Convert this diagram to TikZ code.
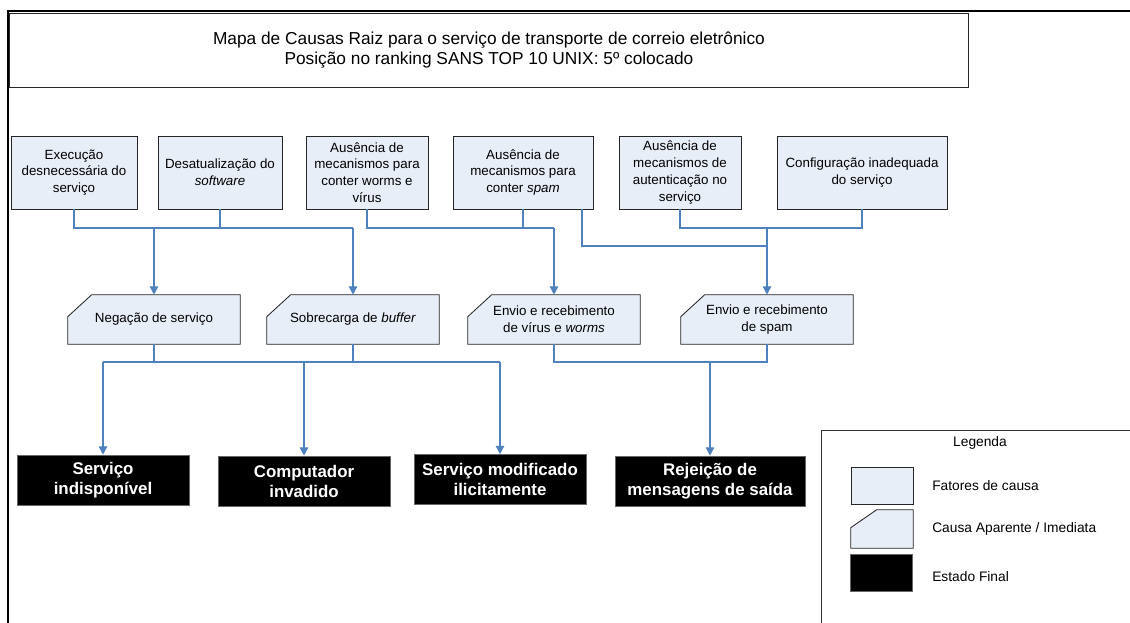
\documentclass[tikz,border=0pt]{standalone}
\usepackage{fontspec}
\setmainfont{Liberation Sans}
\usepackage{xcolor}
\usepackage{tikz}
\definecolor{factorfill}{RGB}{232, 238, 247}
\definecolor{linkblue}{RGB}{79, 129, 189}
\usetikzlibrary{arrows.meta, positioning, calc, backgrounds}

\begin{document}
\begin{tikzpicture}[
    x=0.025cm, y=-0.025cm,
    factor/.style={rectangle, draw=black!85, line width=0.6pt, fill=factorfill, minimum height=1.825cm, inner sep=2pt, align=center, font=\fontsize{9.5}{11.9}\selectfont},
    cause/.style={rectangle, minimum width=4.3cm, minimum height=1.225cm, inner sep=1pt, align=center, font=\fontsize{9.5}{11.9}\selectfont},
    causeedge/.style={draw=black!85, line width=0.6pt, fill=factorfill},
    endstate/.style={rectangle, draw=black!60, fill=black, text=white, minimum width=4.3cm, minimum height=1.25cm, inner sep=1pt, align=center, font=\bfseries\fontsize{12}{14.2}\selectfont},
    legtext/.style={anchor=west, inner sep=0pt, font=\fontsize{9.8}{11.9}\selectfont},
    connector/.style={draw=linkblue, line width=1pt},
    connarrow/.style={connector, -{Triangle[length=6pt, width=6pt]}}
]
    \useasboundingbox (0,0) rectangle (1130,623);

    % Frame
    \draw[line width=1.8pt] (8,623) -- (8,11) -- (1130,11);

    % Title
    \node[rectangle, draw=black!85, line width=0.6pt, minimum width=23.95cm, minimum height=1.85cm, align=center, font=\fontsize{12.3}{14.6}\selectfont] (title) at (489,50) {Mapa de Causas Raiz para o serviço de transporte de correio eletrônico\\Posição no ranking SANS TOP 10 UNIX: 5º colocado};

    % Cause factors
    \node[factor, minimum width=3.15cm] (f1) at (74,172.5) {Execução\\desnecessária do\\serviço};
    \node[factor, minimum width=3.1cm] (f2) at (220,172.5) {Desatualização do\\\textit{software}};
    \node[factor, minimum width=3.05cm] (f3) at (367,172.5) {Ausência de\\mecanismos para\\conter worms e\\vírus};
    \node[factor, minimum width=3.5cm] (f4) at (523,172.5) {Ausência de\\mecanismos para\\conter \textit{spam}};
    \node[factor, minimum width=3.05cm] (f5) at (680,172.5) {Ausência de\\mecanismos de\\autenticação no\\serviço};
    \node[factor, minimum width=4.25cm] (f6) at (862,172.5) {Configuração inadequada\\do serviço};

    % Apparent causes
    \node[cause] (c1) at (154,319.5) {Negação de serviço};
    \node[cause] (c2) at (353,319.5) {Sobrecarga de \textit{buffer}};
    \node[cause] (c3) at (554,319.5) {Envio e recebimento\\de vírus e \textit{worms}};
    \node[cause] (c4) at (767,319.5) {Envio e recebimento\\de spam};

    % Final states
    \node[endstate] (e1) at (103,480) {Serviço\\indisponível};
    \node[endstate] (e2) at (304,481) {Computador\\invadido};
    \node[endstate] (e3) at (500,479.5) {Serviço modificado\\ilicitamente};
    \node[endstate, minimum width=4.75cm] (e4) at (710,481) {Rejeição de\\mensagens de saída};

    % Buses
    \coordinate (bus1) at (0,228);
    \coordinate (bus2) at (0,246);
    \coordinate (bus3) at (0,362);

    % Factors to causes
    \draw[connector] (f1.south) |- (c2.north |- bus1);
    \draw[connector] (f2.south) -- (f2.south |- bus1);
    \draw[connarrow] (c1.north |- bus1) -- (c1.north);
    \draw[connarrow] (c2.north |- bus1) -- (c2.north);

    \draw[connector] (f3.south) |- (c3.north |- bus1);
    \draw[connector] (f4.south) -- (f4.south |- bus1);
    \draw[connarrow] (c3.north |- bus1) -- (c3.north);

    \draw[connector] ([xshift=1.475cm]f4.south) |- (c4.north |- bus2);
    \draw[connector] (f5.south) |- (f6.south |- bus1) -- (f6.south);
    \draw[connarrow] (c4.north |- bus1) -- (c4.north);

    % Causes to final states
    \draw[connector] (c1.south) -- (c1.south |- bus3);
    \draw[connector] (c2.south) -- (c2.south |- bus3);
    \draw[connector] (e1.north |- bus3) -- (e3.north |- bus3);
    \draw[connarrow] (e1.north |- bus3) -- (e1.north);
    \draw[connarrow] (e2.north |- bus3) -- (e2.north);
    \draw[connarrow] (e3.north |- bus3) -- (e3.north);

    \draw[connector] (c3.south) |- (c4.south |- bus3) -- (c4.south);
    \draw[connarrow] (e4.north |- bus3) -- (e4.north);

    % Legend
    \draw[line width=0.7pt, draw=black!80] (821,623) -- (821,430) -- (1130,430);
    \node[font=\fontsize{9.8}{11.9}\selectfont] (legtitle) at (980,443) {Legenda};
    \node[factor, minimum width=1.55cm, minimum height=0.925cm] (lg1) at (882,485.5) {};
    \node[cause, minimum width=1.55cm, minimum height=0.95cm] (lg2) at (882,529) {};
    \node[endstate, minimum width=1.55cm, minimum height=0.925cm] (lg3) at (881,572.5) {};
    \node[legtext] (lgt1) at (932,486) {Fatores de causa};
    \node[legtext] (lgt2) at (932,529) {Causa Aparente / Imediata};
    \node[legtext] (lgt3) at (932,577) {Estado Final};

    % Chamfered outlines behind the causes
    \begin{scope}[on background layer]
        \foreach \n/\cx/\cy in {c1/0.6/0.55, c2/0.6/0.55, c3/0.6/0.55, c4/0.6/0.55, lg2/0.65/0.45}
            \draw[causeedge] ([yshift=-\cy cm]\n.north west) -- ([xshift=\cx cm]\n.north west) -- (\n.north east) -- (\n.south east) -- (\n.south west) -- cycle;
    \end{scope}
\end{tikzpicture}
\end{document}
